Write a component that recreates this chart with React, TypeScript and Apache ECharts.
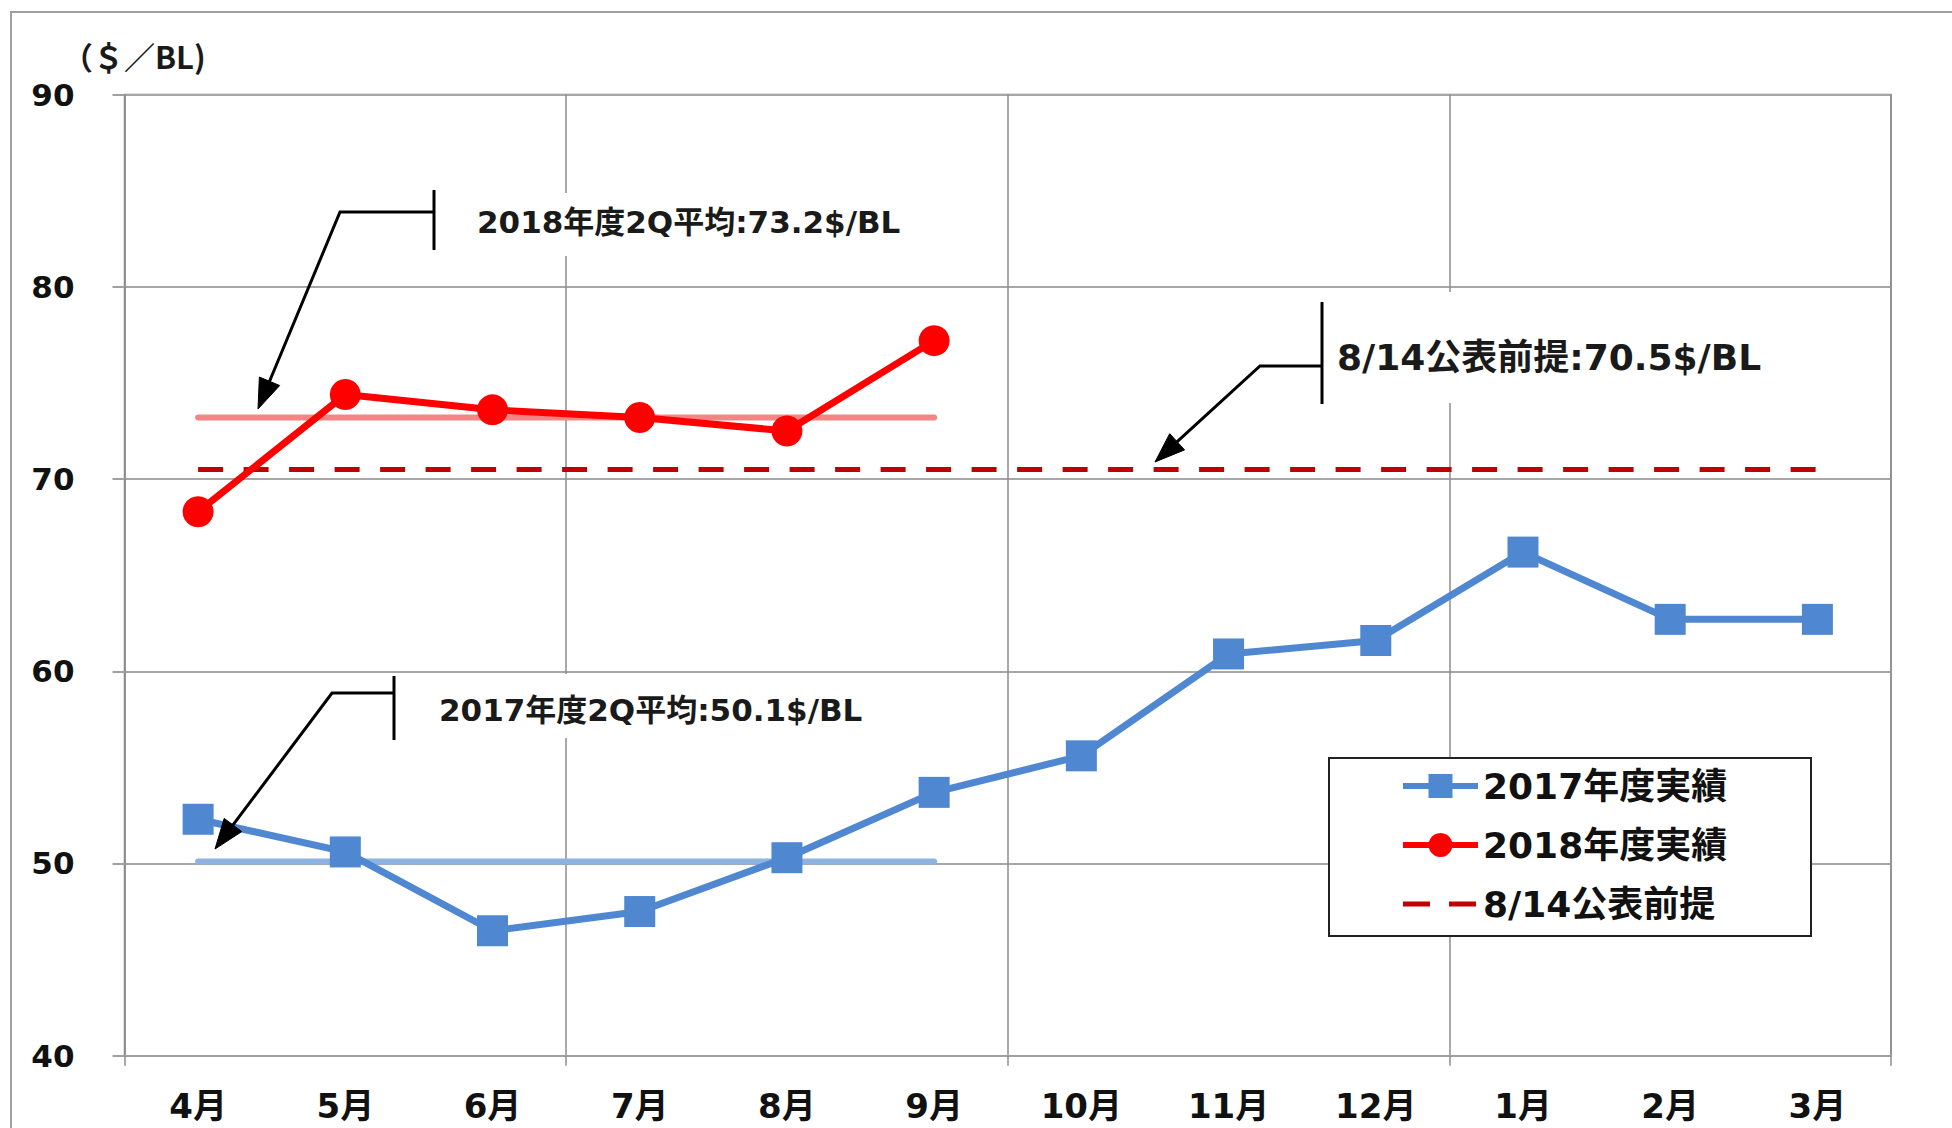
import React, { useEffect, useRef } from "react";
import * as echarts from "echarts";

const categories = ["4月", "5月", "6月", "7月", "8月", "9月", "10月", "11月", "12月", "1月", "2月", "3月"];
const fy2017 = [52.3, 50.6, 46.5, 47.5, 50.3, 53.7, 55.6, 60.9, 61.6, 66.2, 62.7, 62.7];
const fy2018 = [68.3, 74.4, 73.6, 73.2, 72.5, 77.2];
const avg2017Q2 = 50.1;
const avg2018Q2 = 73.2;
const assumption = 70.5;
const avgSpan = ["4月", "9月"];
const assumptionSpan = ["4月", "3月"];
const seriesNames = ["2017年度実績", "2018年度実績", "8/14公表前提"];
const yTicks = { min: 40, max: 90, interval: 10 };
const unitLabel = "（＄／BL)";
const note2018 = "2018年度2Q平均:73.2$/BL";
const note2017 = "2017年度2Q平均:50.1$/BL";
const noteAssumption = "8/14公表前提:70.5$/BL";

const FONT = "'DejaVu Sans', 'Noto Sans CJK JP', sans-serif";
const CJK = "'Noto Sans CJK JP', sans-serif";

function arrow(corner: number[], tip: number[], len = 30, hw = 11) {
  const dx = tip[0] - corner[0];
  const dy = tip[1] - corner[1];
  const L = Math.hypot(dx, dy);
  const ux = dx / L, uy = dy / L;
  const bx = tip[0] - ux * len, by = tip[1] - uy * len;
  const px = -uy, py = ux;
  return {
    base: [bx + ux * 4, by + uy * 4],
    head: [tip, [bx + px * hw, by + py * hw], [bx - px * hw, by - py * hw]],
  };
}

function callout(barX: number, barY1: number, barY2: number, armY: number, cornerX: number, tip: number[]) {
  const a = arrow([cornerX, armY], tip);
  const ls = { stroke: "#000", lineWidth: 3, fill: null };
  return [
    { type: "line", z: 6, shape: { x1: barX, y1: barY1, x2: barX, y2: barY2 }, style: ls },
    { type: "polyline", z: 6, shape: { points: [[barX, armY], [cornerX, armY], a.base] }, style: ls },
    { type: "polygon", z: 6, shape: { points: a.head }, style: { fill: "#000", stroke: "#000", lineWidth: 1 } },
  ];
}

function note(text: string, x: number, y: number, size: number) {
  return {
    type: "text",
    z: 6,
    x,
    y,
    style: { text, fontSize: size, fontWeight: "bold", fontFamily: FONT, fill: "#1a1a1a", verticalAlign: "middle", align: "left" },
  };
}

function whiteBox(x: number, y: number, w: number, h: number) {
  return { type: "rect", z: 3, shape: { x, y, width: w, height: h }, style: { fill: "#fff", stroke: null } };
}

const everyThird = (index: number) => index % 3 === 0;

export default function App() {
  const ref = useRef<HTMLDivElement>(null);
  useEffect(() => {
    if (!ref.current) return;
    const chart = echarts.init(ref.current, null, { renderer: "svg" });
    const option: any = {
      animation: false,
      backgroundColor: "#fff",
      grid: { left: 124.5, right: 61, top: 94.6, bottom: 72.3, show: true, borderColor: "#8c8c8c", borderWidth: 1.5 },
      legend: {
        data: [
          { name: seriesNames[0] },
          { name: seriesNames[1] },
          { name: seriesNames[2], itemStyle: { opacity: 0, color: "transparent" }, lineStyle: { type: [27, 19], width: 5, color: "#c00000" } },
        ],
        orient: "vertical",
        left: 1395,
        top: 761,
        itemWidth: 75,
        itemHeight: 30,
        itemGap: 19,
        z: 5,
        lineStyle: { width: 6 },
        textStyle: { fontSize: 36, fontWeight: "bold", fontFamily: FONT, color: "#111", lineHeight: 40 },
      },
      xAxis: {
        type: "category",
        data: categories,
        boundaryGap: true,
        axisLine: { show: true, lineStyle: { color: "#a0a0a0", width: 2 } },
        axisTick: { show: true, interval: everyThird, length: 10, lineStyle: { color: "#8c8c8c", width: 1.5 } },
        axisLabel: { interval: 0, margin: 33, fontSize: 34, fontWeight: "bold", fontFamily: FONT, color: "#111" },
        splitLine: { show: true, interval: everyThird, lineStyle: { color: "#8c8c8c", width: 1.5 } },
      },
      yAxis: {
        type: "value",
        min: yTicks.min,
        max: yTicks.max,
        interval: yTicks.interval,
        axisLine: { show: true, lineStyle: { color: "#8c8c8c", width: 1.5 } },
        axisTick: { show: true, length: 12, lineStyle: { color: "#a0a0a0", width: 2 } },
        axisLabel: { margin: 50, fontSize: 31, fontWeight: "bold", fontFamily: FONT, color: "#111" },
        splitLine: { show: true, lineStyle: { color: "#a6a6a6", width: 2 } },
      },
      series: [
        {
          name: "avg2018",
          type: "line",
          data: [[avgSpan[0], avg2018Q2], [avgSpan[1], avg2018Q2]],
          symbol: "none",
          silent: true,
          z: 1,
          lineStyle: { color: "#f48585", width: 6, cap: "round" },
        },
        {
          name: "avg2017",
          type: "line",
          data: [[avgSpan[0], avg2017Q2], [avgSpan[1], avg2017Q2]],
          symbol: "none",
          silent: true,
          z: 1,
          lineStyle: { color: "#8db3e2", width: 6, cap: "round" },
        },
        {
          name: seriesNames[2],
          type: "line",
          data: [[assumptionSpan[0], assumption], [assumptionSpan[1], assumption]],
          symbol: "none",
          silent: true,
          z: 2,
          itemStyle: { color: "#c00000" },
          lineStyle: { color: "#c00000", width: 5, type: [25, 20.5] },
        },
        {
          name: seriesNames[0],
          type: "line",
          data: fy2017,
          symbol: "rect",
          symbolSize: 31,
          z: 3,
          itemStyle: { color: "#4f87d1" },
          lineStyle: { color: "#4f87d1", width: 7 },
        },
        {
          name: seriesNames[1],
          type: "line",
          data: fy2018,
          symbol: "circle",
          symbolSize: 31,
          z: 4,
          itemStyle: { color: "#ff0000" },
          lineStyle: { color: "#ff0000", width: 7 },
        },
      ],
      graphic: [
        { type: "rect", z: -1, silent: true, shape: { x: 11, y: 12, width: 2000, height: 2000 }, style: { fill: null, stroke: "#a0a0a0", lineWidth: 2 } },
        { type: "text", z: 6, x: 62, y: 55, style: { text: unitLabel, fontSize: 31, fontWeight: "bold", fontFamily: CJK, fill: "#1a1a1a", verticalAlign: "middle" } },
        whiteBox(445, 193, 485, 63),
        whiteBox(1330, 292, 460, 111),
        whiteBox(405, 674, 475, 64),
        { type: "rect", z: 3, shape: { x: 1329, y: 758, width: 482, height: 178 }, style: { fill: "#fff", stroke: "#222", lineWidth: 2 } },
        note(note2018, 477, 222, 31),
        note(noteAssumption, 1337, 357, 36),
        note(note2017, 439, 710, 31),
        ...callout(434, 190, 250, 212, 340, [258, 409]),
        ...callout(1322, 302, 404, 366, 1260, [1155, 462]),
        ...callout(394, 676, 740, 693, 332, [215, 849]),
      ],
    };
    chart.setOption(option);
    return () => chart.dispose();
  }, []);
  return (
    <div
      ref={ref}
      style={{ position: "fixed", left: 0, top: 0, width: 1952, height: 1128, background: "#fff" }}
    />
  );
}
